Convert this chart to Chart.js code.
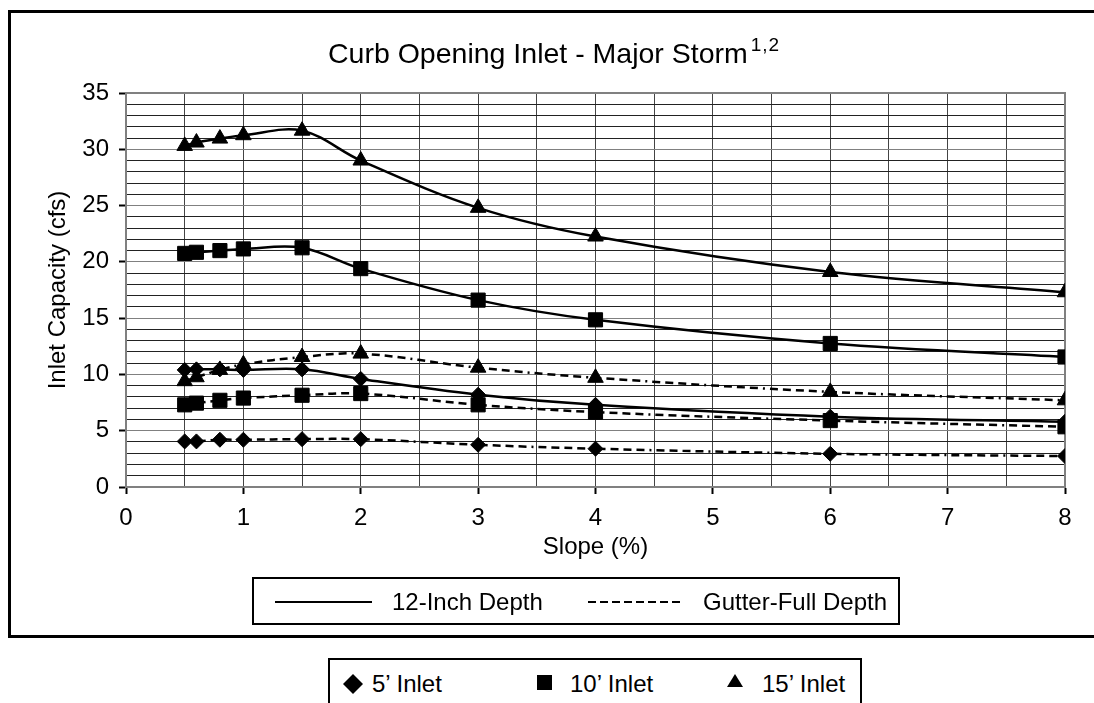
<!DOCTYPE html>
<html>
<head>
<meta charset="utf-8">
<script src="https://cdn.jsdelivr.net/npm/chart.js@4.4.1/dist/chart.umd.min.js"></script>
<style>
  body { margin: 0; background: #fff; font-family: "Liberation Sans", Arial, sans-serif; color: #000; }
  #wrap { position: relative; width: 1094px; height: 703px; overflow: hidden; }
  #c { position: absolute; left: 0; top: 0; }
  .frame { position: absolute; left: 8px; top: 10px; width: 1110px; height: 628px; border: 3px solid #000; box-sizing: border-box; }
  .title { position: absolute; left: 328px; top: 39px; font-size: 28.5px; line-height: 28px; white-space: nowrap; }
  .title sup { font-size: 19px; letter-spacing: 1px; margin-left: 3px; vertical-align: 0; position: relative; top: -12px; }
  .box { position: absolute; border: 2px solid #000; box-sizing: border-box; background: #fff; }
  .item { position: absolute; font-size: 24px; line-height: 24px; white-space: nowrap; }
  svg { position: absolute; overflow: visible; }
</style>
</head>
<body>
<div id="wrap">
  <canvas id="c" width="1094" height="703"></canvas>
  <div class="frame"></div>
  <div class="title">Curb Opening Inlet - Major Storm<sup>1,2</sup></div>

  <div class="box" style="left:252px;top:577px;width:648px;height:48px;">
    <svg style="left:21px;top:21px;" width="100" height="4"><line x1="0" y1="2" x2="97" y2="2" stroke="#000" stroke-width="2"/></svg>
    <div class="item" style="left:138px;top:11px;">12-Inch Depth</div>
    <svg style="left:334px;top:21px;" width="100" height="4"><line x1="0" y1="2" x2="96" y2="2" stroke="#000" stroke-width="2" stroke-dasharray="8 4 8 4 8 4 8 4 8 4 8 4 8 4 8 4 2 4"/></svg>
    <div class="item" style="left:449px;top:11px;">Gutter-Full Depth</div>
  </div>

  <div class="box" style="left:328px;top:658px;width:534px;height:50px;">
    <svg style="left:13px;top:14px;" width="20" height="20"><polygon points="10,0 20,10 10,20 0,10" fill="#000"/></svg>
    <div class="item" style="left:42px;top:12px;">5’ Inlet</div>
    <svg style="left:207px;top:15px;" width="16" height="16"><rect x="0" y="0" width="15" height="15" fill="#000"/></svg>
    <div class="item" style="left:240px;top:12px;">10’ Inlet</div>
    <svg style="left:397px;top:14px;" width="16" height="14"><polygon points="8,0 16,13 0,13" fill="#000"/></svg>
    <div class="item" style="left:432px;top:12px;">15’ Inlet</div>
  </div>
</div>

<script>
const FONT = '"Liberation Sans", Arial, sans-serif';

// slope (%)
const slopes = [0.5, 0.6, 0.8, 1, 1.5, 2, 3, 4, 6, 8];

// 12-inch depth (cfs)
const inlet5_12 = [10.4, 10.45, 10.45, 10.4, 10.45, 9.6, 8.2, 7.3, 6.25, 5.8];
const inlet10_12 = [20.75, 20.85, 21.0, 21.15, 21.25, 19.4, 16.6, 14.85, 12.75, 11.55];
const inlet15_12 = [30.3, 30.6, 30.95, 31.25, 31.65, 29.0, 24.8, 22.25, 19.1, 17.3];

// gutter-full depth (cfs)
const inlet5_gf = [4.05, 4.05, 4.2, 4.2, 4.25, 4.25, 3.75, 3.4, 2.95, 2.75];
const inlet10_gf = [7.3, 7.45, 7.7, 7.9, 8.15, 8.3, 7.3, 6.65, 5.9, 5.35];
const inlet15_gf = [9.4, 9.75, 10.4, 10.9, 11.55, 11.85, 10.6, 9.7, 8.45, 7.7];

const dash = [8, 5, 8, 5, 8, 5, 8, 5, 2, 5];

function pts(arr) {
  return slopes.map((x, i) => ({ x: x, y: arr[i] }));
}

function series(label, arr, style, radius, dashed) {
  return {
    label: label,
    data: pts(arr),
    showLine: true,
    borderColor: '#000',
    backgroundColor: '#000',
    borderWidth: 2.5,
    borderDash: dashed ? dash : [],
    tension: 0.35,
    pointStyle: style,
    pointRadius: radius,
    pointBorderWidth: 1,
    pointBorderColor: '#000',
    pointBackgroundColor: '#000'
  };
}

const plotBorder = {
  id: 'plotBorder',
  beforeDatasetsDraw(chart) {
    const a = chart.chartArea;
    const ctx = chart.ctx;
    ctx.save();
    ctx.strokeStyle = '#808080';
    ctx.lineWidth = 2;
    ctx.strokeRect(a.left, a.top, a.right - a.left, a.bottom - a.top);
    ctx.restore();
  }
};

new Chart(document.getElementById('c'), {
  type: 'scatter',
  data: {
    datasets: [
      series("5' Inlet 12-Inch", inlet5_12, 'rectRot', 7.5, false),
      series("10' Inlet 12-Inch", inlet10_12, 'rect', 10, false),
      series("15' Inlet 12-Inch", inlet15_12, 'triangle', 9, false),
      series("5' Inlet Gutter-Full", inlet5_gf, 'rectRot', 7.5, true),
      series("10' Inlet Gutter-Full", inlet10_gf, 'rect', 10, true),
      series("15' Inlet Gutter-Full", inlet15_gf, 'triangle', 9, true)
    ]
  },
  options: {
    responsive: false,
    animation: false,
    layout: { padding: { left: 12, right: 29, top: 93, bottom: 136 } },
    plugins: {
      legend: { display: false },
      tooltip: { enabled: false }
    },
    scales: {
      x: {
        type: 'linear',
        min: 0,
        max: 8,
        ticks: {
          stepSize: 0.5,
          autoSkip: false,
          maxRotation: 0,
          padding: 10,
          color: '#000',
          font: { family: FONT, size: 24 },
          callback: v => Number.isInteger(v) ? v : ''
        },
        grid: {
          color: '#444',
          lineWidth: 1,
          tickLength: 7,
          tickWidth: 2,
          tickColor: ctx => Number.isInteger(ctx.tick.value) ? '#000' : 'rgba(0,0,0,0)'
        },
        border: { color: '#555', width: 2 },
        title: {
          display: true,
          text: 'Slope (%)',
          color: '#000',
          font: { family: FONT, size: 24 },
          padding: { top: 0, bottom: 5 }
        },
        afterFit: s => { s.height = 80; }
      },
      y: {
        min: 0,
        max: 35,
        ticks: {
          stepSize: 1,
          maxTicksLimit: 100,
          autoSkip: false,
          padding: 10,
          color: '#000',
          font: { family: FONT, size: 24 },
          callback: v => v % 5 === 0 ? v : ''
        },
        grid: {
          color: ctx => (ctx.tick && ctx.tick.value % 5 === 0) ? '#808080' : '#222',
          lineWidth: 1,
          tickLength: 7,
          tickWidth: 2,
          tickColor: ctx => ctx.tick.value % 5 === 0 ? '#000' : 'rgba(0,0,0,0)'
        },
        border: { color: '#555', width: 2 },
        title: {
          display: true,
          text: 'Inlet Capacity (cfs)',
          color: '#000',
          font: { family: FONT, size: 24 },
          padding: { top: 32, bottom: 0 }
        },
        afterFit: s => { s.width = 114; }
      }
    }
  },
  plugins: [plotBorder]
});
</script>
</body>
</html>
